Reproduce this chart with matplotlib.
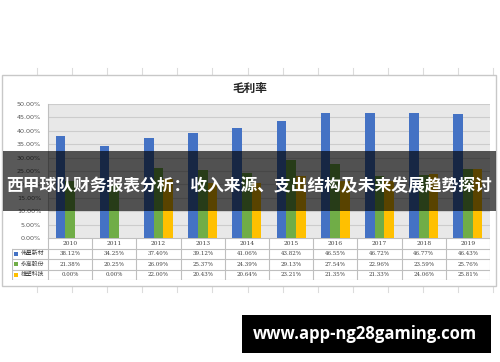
import matplotlib
matplotlib.use('Agg')
import matplotlib.pyplot as plt
from matplotlib.patches import Rectangle
from matplotlib.lines import Line2D
import numpy as np

plt.rcParams['font.family'] = ['Noto Sans CJK SC', 'DejaVu Sans']

years = ['2010', '2011', '2012', '2013', '2014', '2015', '2016', '2017', '2018', '2019']
series_names = ['伟星新材', '永高股份', '雄塑科技']
weixing = [38.12, 34.25, 37.40, 39.12, 41.06, 43.82, 46.55, 46.72, 46.77, 46.43]
yonggao = [21.38, 20.25, 26.09, 25.37, 24.39, 29.13, 27.54, 22.96, 23.59, 25.76]
xiongsu = [0.00, 0.00, 22.00, 20.43, 20.64, 23.21, 21.35, 21.33, 24.06, 25.81]
colors = ['#4472C4', '#70AD47', '#FFC000']

title = '毛利率'
banner = '西甲球队财务报表分析：收入来源、支出结构及未来发展趋势探讨'
watermark = 'www.app-ng28gaming.com'

W, H = 500, 362
fig = plt.figure(figsize=(W / 100, H / 100), dpi=100)


def box(x0, y0, x1, y1):
    # pixel box (top-left origin) -> figure fraction rect
    return [x0 / W, 1 - y1 / H, (x1 - x0) / W, (y1 - y0) / H]


# spreadsheet cell lines peeking around the chart frame
for px in np.arange(37, 500, 35.1):
    for (ya, yb) in [(68, 75), (286, 292)]:
        fig.add_artist(Line2D([px / W, px / W], [1 - ya / H, 1 - yb / H],
                              color='#dcdcdc', lw=0.8, transform=fig.transFigure, zorder=-2))

# chart frame
r = box(2, 75, 496, 286)
fig.add_artist(Rectangle((r[0], r[1]), r[2], r[3], transform=fig.transFigure,
                         facecolor='white', edgecolor='#c8c8c8', lw=1, zorder=-1))

fig.text(250 / W, 1 - 88 / H, title, ha='center', va='center',
         fontsize=8.4, fontweight='bold', color='#222222')

# ── bar plot ──
ax = fig.add_axes(box(48, 104, 490, 238))
ax.set_facecolor('#e8e8e8')
x = np.arange(len(years))
bw = 0.22
for k, (vals, col) in enumerate(zip([weixing, yonggao, xiongsu], colors)):
    ax.bar(x + (k - 1) * bw, np.array(vals) / 100, width=bw, color=col, zorder=3)

ax.set_xlim(-0.5, len(years) - 0.5)
ax.set_ylim(0, 0.5)
yt = np.arange(0, 0.501, 0.05)
ax.set_yticks(yt)
ax.set_yticklabels([f'{v * 100:.2f}%' for v in yt], fontsize=4.6, color='#595959',
                   family='DejaVu Sans')
ax.set_xticks([])
ax.tick_params(axis='y', length=0, pad=5)
ax.grid(axis='y', color='#cccccc', lw=0.8, zorder=0)
for sp in ['top', 'right', 'bottom']:
    ax.spines[sp].set_visible(False)
ax.spines['left'].set_color('#bfbfbf')
ax.spines['left'].set_linewidth(0.8)

# ── data table under the plot ──
lab_w = 36 / 44.2
tab = fig.add_axes(box(12, 238, 490, 280))
tab.set_xlim(-0.5 - lab_w, len(years) - 0.5)
tab.set_ylim(4, 0)
tab.axis('off')
lc = '#bfbfbf'
tab.plot([-0.5, len(years) - 0.5], [0, 0], color=lc, lw=0.8)
for row in range(1, 5):
    tab.plot([-0.5 - lab_w, len(years) - 0.5], [row, row], color=lc, lw=0.8)
tab.plot([-0.5 - lab_w] * 2, [1, 4], color=lc, lw=0.8)
for i in range(len(years) + 1):
    tab.plot([i - 0.5] * 2, [0, 4], color=lc, lw=0.8)
for i, yr in enumerate(years):
    tab.text(i, 0.5, yr, ha='center', va='center', fontsize=4.2, color='#404040',
             family='DejaVu Serif')
for row, (name, vals, col) in enumerate(zip(series_names, [weixing, yonggao, xiongsu], colors), start=1):
    tab.scatter([-0.5 - lab_w + 0.1], [row + 0.5], marker='s', s=5, color=col, lw=0)
    tab.text(-0.5 - lab_w + 0.2, row + 0.5, name, ha='left', va='center',
             fontsize=4.2, color='#404040')
    for i, v in enumerate(vals):
        tab.text(i, row + 0.5, f'{v:.2f}%', ha='center', va='center', fontsize=4.0,
                 color='#404040', family='DejaVu Serif')

# ── overlay banner ──
r = box(3, 151, 496, 211)
fig.add_artist(Rectangle((r[0], r[1]), r[2], r[3], transform=fig.transFigure,
                         facecolor='black', alpha=0.65, lw=0, zorder=10))
fig.text(249.5 / W, 1 - 186 / H, banner, ha='center', va='center', fontsize=12.1,
         fontweight='bold', color='white', zorder=11)

# ── watermark box ──
r = box(242, 315, 491, 353)
fig.add_artist(Rectangle((r[0], r[1]), r[2], r[3], transform=fig.transFigure,
                         facecolor='black', lw=0, zorder=10))
fig.text(364.5 / W, 1 - 334 / H, watermark, ha='center', va='center', fontsize=12,
         fontweight='bold', color='white', family='Open Sans', zorder=11)

fig.savefig('out.png', dpi=100, facecolor='white')
